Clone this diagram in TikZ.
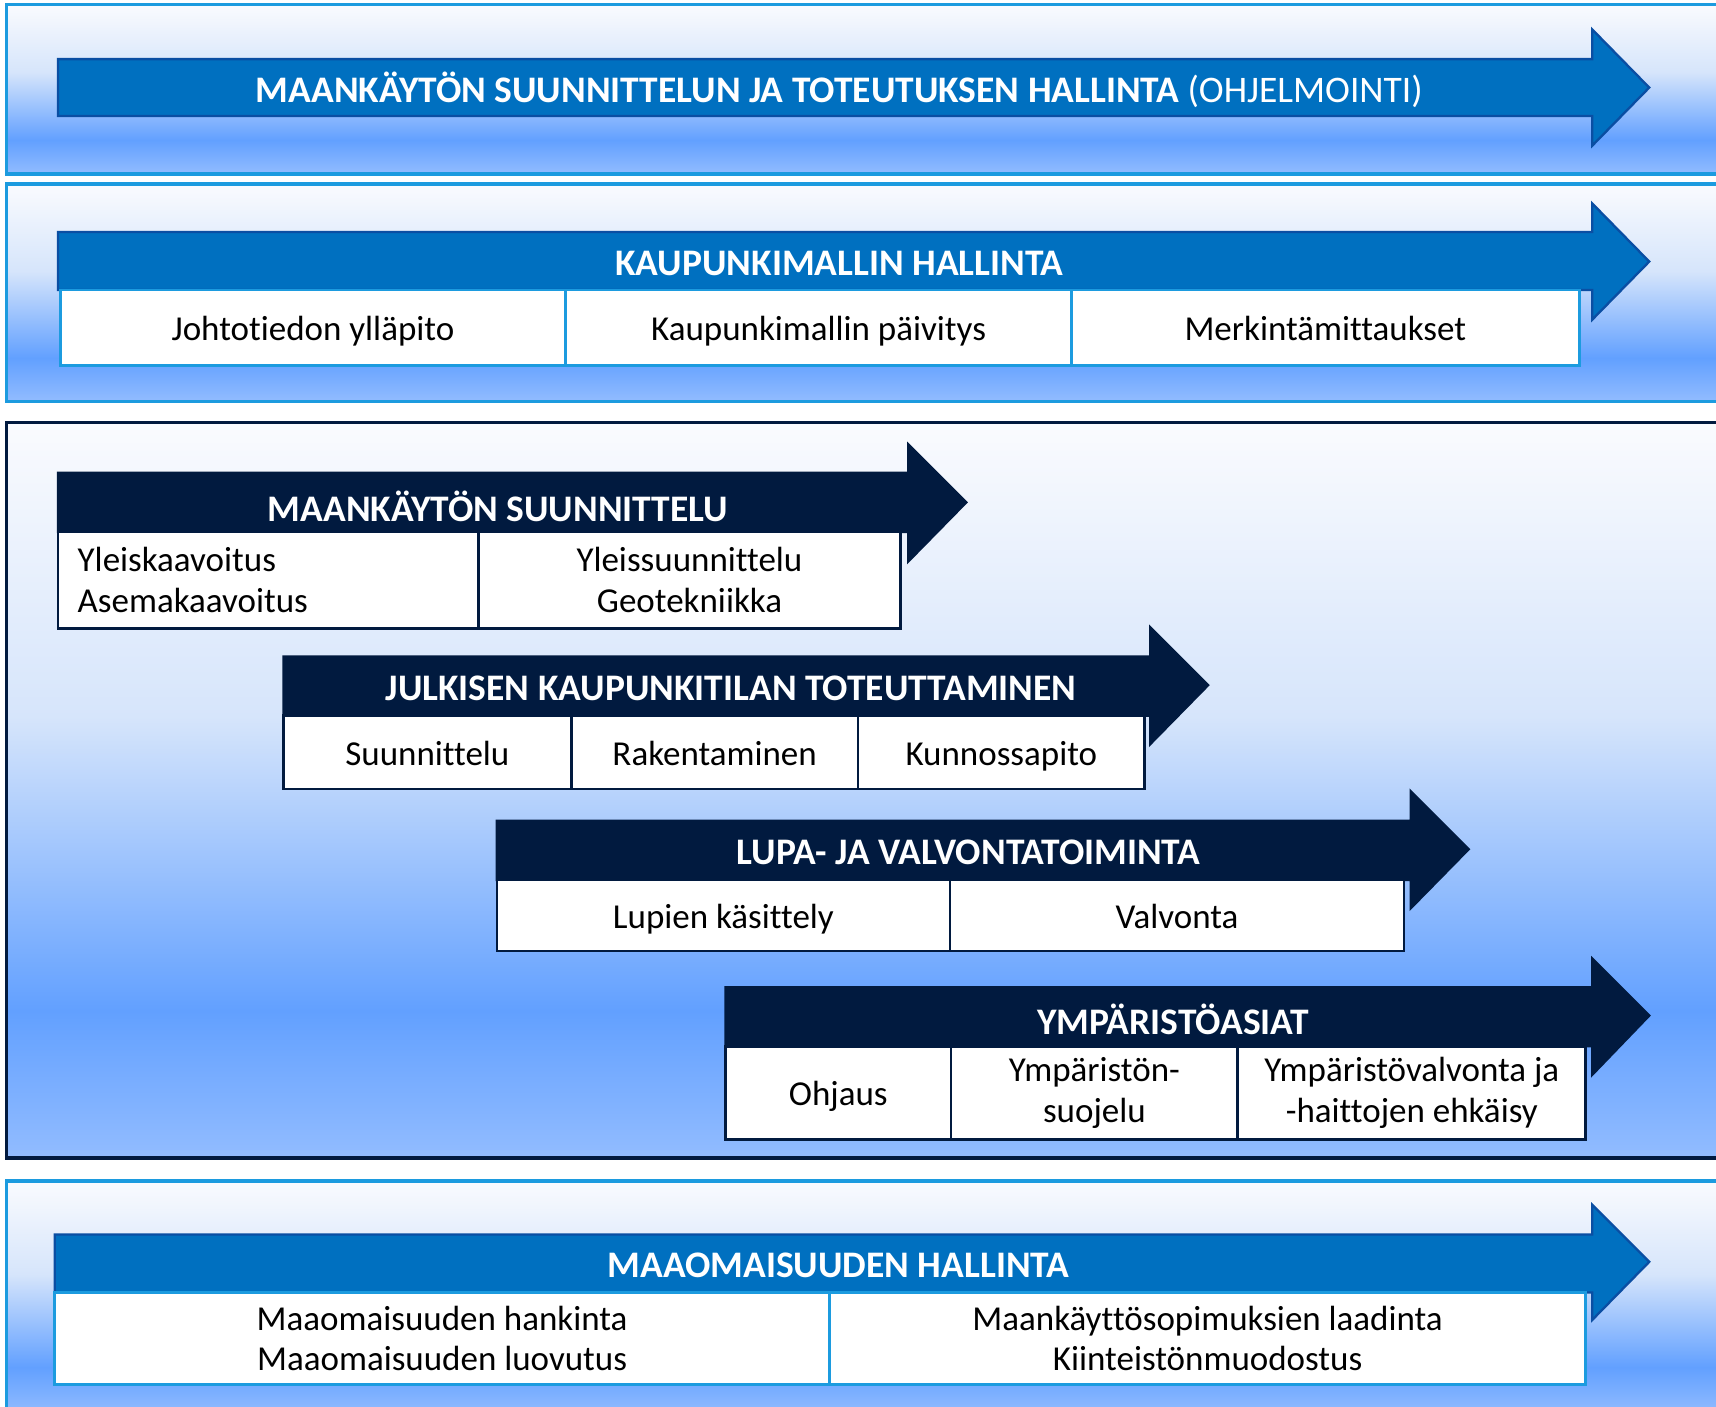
\documentclass[tikz,border=0pt]{standalone}
\usepackage{fontspec}
\setmainfont{Carlito}[Ligatures=NoCommon]
\usetikzlibrary{positioning}

\definecolor{flowblue}{HTML}{0070C0}
\definecolor{flowblueline}{HTML}{0A4EA3}
\definecolor{flownavy}{HTML}{011A3F}
\definecolor{panelline}{HTML}{1C9BDF}
\definecolor{paneltop}{HTML}{FAFBFE}
\definecolor{panelmid}{HTML}{D6E5FB}
\definecolor{paneldeep}{HTML}{62A0FF}
\definecolor{panelbot}{HTML}{92BCFF}

\pgfdeclareverticalshading{panelshade}{100bp}{%
  color(0bp)=(panelbot); color(25bp)=(panelbot); color(35bp)=(paneldeep);
  color(55bp)=(panelmid); color(75bp)=(paneltop); color(100bp)=(paneltop)}

\tikzset{
  panel/.style={shading=panelshade, draw=panelline, line width=0.9pt},
  bluearrow/.style={fill=flowblue, draw=flowblueline, line width=0.6pt},
  navyarrow/.style={fill=flownavy, draw=flownavy, line width=0.6pt},
  title/.style={text=white, font=\fontsize{9.75}{11.5}\selectfont\bfseries},
  cell/.style={draw, fill=white, line width=0.7pt, outer sep=0pt, inner sep=0pt,
    align=center, font=\fontsize{9.1}{10.6}\selectfont},
  oneline/.style={text height=0.72em, text depth=0.06em},
  bluecell/.style={cell, draw=panelline},
  navycell/.style={cell, draw=flownavy}
}

\begin{document}
\begin{tikzpicture}[x=0.1mm, y=-0.1mm]
  \clip (0,0) rectangle (1568,1285);

  % panels
  \draw[panel] (6,4) rectangle (1590,159);
  \draw[panel] (6,168) rectangle (1590,367);
  \draw[panel, draw=flownavy] (6,386) rectangle (1590,1058);
  \draw[panel] (6,1079) rectangle (1590,1292);

  % ohjelmointi
  \draw[bluearrow] (53,54) -- (1455,54) -- (1455,27) -- (1507,80) -- (1455,133) -- (1455,106) -- (53,106) -- cycle;
  \node[title] (ohjelmointi) at (767,82) {MAANKÄYTÖN SUUNNITTELUN JA TOTEUTUKSEN HALLINTA \mdseries(OHJELMOINTI)};

  % kaupunkimalli
  \draw[bluearrow] (53,212) -- (1455,212) -- (1455,186) -- (1507,239) -- (1455,292) -- (1455,265) -- (53,265) -- cycle;
  \node[title] (kaupunkimalli) at (767,241) {KAUPUNKIMALLIN HALLINTA};
  \node[bluecell, oneline, minimum width=46.2mm, minimum height=6.9mm, anchor=north west] (johto) at (55,265) {Johtotiedon ylläpito};
  \node[bluecell, oneline, minimum width=46.2mm, minimum height=6.9mm, right=0pt of johto] (paivitys) {Kaupunkimallin päivitys};
  \node[bluecell, oneline, minimum width=46.4mm, minimum height=6.9mm, right=0pt of paivitys] (merkinta) {Merkintämittaukset};

  % maankaytto
  \draw[navyarrow] (53,432) -- (830,432) -- (830,406) -- (883,459) -- (830,513) -- (830,486) -- (53,486) -- cycle;
  \node[title] (suunnittelu) at (455,463) {MAANKÄYTÖN SUUNNITTELU};
  \node[navycell, minimum width=38.4mm, minimum height=8.8mm, anchor=north west,
    align=left, text width=34.8mm, inner xsep=1.8mm] (kaavoitus) at (53,486) {Yleiskaavoitus\\Asemakaavoitus};
  \node[navycell, minimum width=38.6mm, minimum height=8.8mm, right=0pt of kaavoitus] (geotek) {Yleissuunnittelu\\Geotekniikka};

  \draw[navyarrow] (259,600) -- (1051,600) -- (1051,573) -- (1104,626) -- (1051,680) -- (1051,654) -- (259,654) -- cycle;
  \node[title] (julkinen) at (668,629) {JULKISEN KAUPUNKITILAN TOTEUTTAMINEN};
  \node[navycell, oneline, minimum width=26.3mm, minimum height=6.7mm, anchor=north west] (jsuunn) at (259,654) {Suunnittelu};
  \node[navycell, oneline, minimum width=26.2mm, minimum height=6.7mm, right=0pt of jsuunn] (rakent) {Rakentaminen};
  \node[navycell, oneline, minimum width=26.2mm, minimum height=6.7mm, right=0pt of rakent] (kunnossa) {Kunnossapito};

  \draw[navyarrow] (454,750) -- (1289,750) -- (1289,723) -- (1342,776) -- (1289,830) -- (1289,804) -- (454,804) -- cycle;
  \node[title] (lupa) at (885,779) {LUPA- JA VALVONTATOIMINTA};
  \node[navycell, oneline, minimum width=41.4mm, minimum height=6.5mm, anchor=north west] (luvat) at (454,804) {Lupien käsittely};
  \node[navycell, oneline, minimum width=41.5mm, minimum height=6.5mm, right=0pt of luvat] (valvonta) {Valvonta};

  \draw[navyarrow] (663,902) -- (1455,902) -- (1455,876) -- (1507,928) -- (1455,982) -- (1455,956) -- (663,956) -- cycle;
  \node[title] (ymparisto) at (1072,931) {YMPÄRISTÖASIAT};
  \node[navycell, oneline, minimum width=20.6mm, minimum height=8.5mm, anchor=north west] (ohjaus) at (663,956) {Ohjaus};
  \node[navycell, minimum width=26.2mm, minimum height=8.5mm, right=0pt of ohjaus] (suojelu) {Ympäristön-\\suojelu};
  \node[navycell, minimum width=31.8mm, minimum height=8.5mm, right=0pt of suojelu] (haitat) {Ympäristövalvonta ja\\-haittojen ehkäisy};

  % maaomaisuus
  \draw[bluearrow] (50,1128) -- (1455,1128) -- (1455,1101) -- (1507,1153) -- (1455,1206) -- (1455,1181) -- (50,1181) -- cycle;
  \node[title] (maaomaisuus) at (766,1156) {MAAOMAISUUDEN HALLINTA};
  \node[bluecell, minimum width=70.8mm, minimum height=8.4mm, anchor=north west] (hankinta) at (50,1181) {Maaomaisuuden hankinta\\Maaomaisuuden luovutus};
  \node[bluecell, minimum width=69.1mm, minimum height=8.4mm, right=0pt of hankinta] (sopimukset) {Maankäyttösopimuksien laadinta\\Kiinteistönmuodostus};
\end{tikzpicture}
\end{document}
